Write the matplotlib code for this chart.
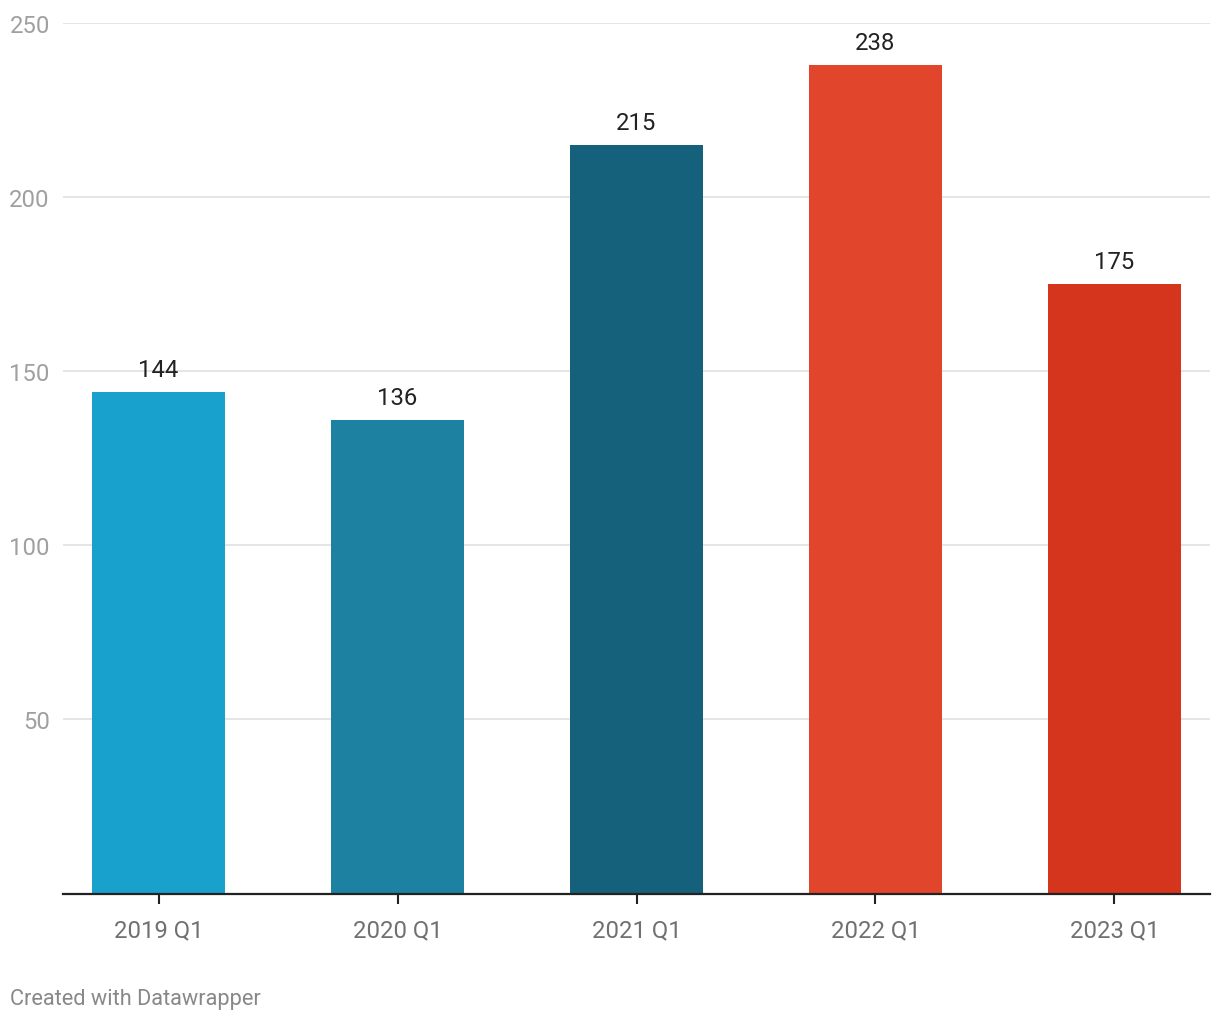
import matplotlib.pyplot as plt
import numpy as np

plt.rcParams['font.family'] = ['Roboto', 'DejaVu Sans']

categories = ['2019 Q1', '2020 Q1', '2021 Q1', '2022 Q1', '2023 Q1']
values = [144, 136, 215, 238, 175]
colors = ['#18a1cd', '#1d81a2', '#15607a', '#e1452c', '#d5341d']
y_ticks = [50, 100, 150, 200, 250]

fig = plt.figure(figsize=(12.2, 10.2), dpi=100)
ax = fig.add_axes([63 / 1220, 125.5 / 1020, 1147 / 1220, 870.5 / 1020])

x = np.arange(len(categories))
bars = ax.bar(x, values, width=0.56, color=colors, zorder=2)

for xi, v in zip(x, values):
    ax.annotate(str(v), (xi, v), xytext=(0, 8), textcoords='offset points',
                ha='center', va='bottom', fontsize=17.2, color='#222222')

ax.set_xlim(-0.4, 4.4)
ax.set_ylim(0, 250)
ax.set_yticks(y_ticks)
ax.set_xticks(x)
ax.set_xticklabels(categories)

ax.grid(axis='y', color='#e3e3e3', linewidth=1.3, zorder=0)
ax.tick_params(axis='y', length=0, pad=9.5, labelsize=17.2, labelcolor='#a0a0a0')
ax.tick_params(axis='x', length=7, width=1.5, color='#222222', pad=11,
               labelsize=17.2, labelcolor='#707070')

for s in ['top', 'right', 'left']:
    ax.spines[s].set_visible(False)
ax.spines['bottom'].set_linewidth(1.6)
ax.spines['bottom'].set_color('#222222')
ax.spines['bottom'].set_zorder(3)

fig.text(10 / 1220, 1 - 1000 / 1020, 'Created with Datawrapper', ha='left', va='center',
         fontsize=15.7, color='#888888')

fig.savefig('out.png', dpi=100)
